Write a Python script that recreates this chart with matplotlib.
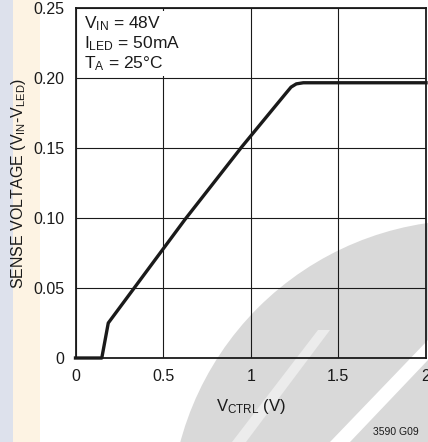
import matplotlib
matplotlib.use('Agg')
import matplotlib.pyplot as plt
import matplotlib.patches as mpatches
import numpy as np

# Curve
v_ctrl = [0.0, 0.15, 0.187, 0.625, 0.95, 1.20, 1.23, 1.26, 1.30, 2.0]
v_sense = [0.0, 0.0, 0.025, 0.099, 0.151, 0.189, 0.1935, 0.1958, 0.1966, 0.1966]

x_ticks = [0, 0.5, 1, 1.5, 2]
x_tick_labels = ['0', '0.5', '1', '1.5', '2']
y_ticks = [0, 0.05, 0.10, 0.15, 0.20, 0.25]
y_tick_labels = ['0', '0.05', '0.10', '0.15', '0.20', '0.25']

conditions = [r'V$_{\mathrm{IN}}$ = 48V',
              r'I$_{\mathrm{LED}}$ = 50mA',
              r'T$_{\mathrm{A}}$ = 25°C']

font = ['Liberation Sans Narrow', 'Liberation Sans', 'DejaVu Sans']
plt.rcParams['font.family'] = font
plt.rcParams['mathtext.fontset'] = 'custom'
plt.rcParams['mathtext.rm'] = 'Liberation Sans'
plt.rcParams['mathtext.it'] = 'Liberation Sans'

W, H = 428, 442
fig = plt.figure(figsize=(W / 100, H / 100), dpi=100)
fig.patch.set_facecolor('white')

# Background layer in pixel coordinates: side strips and watermark disc
bg = fig.add_axes([0, 0, 1, 1], zorder=-5)
bg.set_xlim(0, W)
bg.set_ylim(H, 0)
bg.axis('off')
bg.add_patch(mpatches.Rectangle((0, 0), 13, H, color='#dde1ec', lw=0))
bg.add_patch(mpatches.Rectangle((13, 0), 27, H, color='#fdf3e3', lw=0))
bg.add_patch(mpatches.Circle((470, 520), 300, color='#d9d9d9', lw=0))
bg.add_patch(mpatches.Polygon([(330, 442), (350, 442), (428, 360), (428, 340)],
                              color='white', lw=0))
bg.add_patch(mpatches.Polygon([(232, 442), (246, 442), (330, 330), (318, 330)],
                              color='#ececec', lw=0))

ax = fig.add_axes([75.5 / W, 1 - 358 / H, (426 - 75.5) / W, (358 - 8) / H])
ax.set_facecolor('none')

ax.plot(v_ctrl, v_sense, color='#1a1a1a', lw=2.4, solid_joinstyle='round',
        clip_on=False, zorder=5)

ax.set_xlim(0, 2)
ax.set_ylim(0, 0.25)
ax.set_xticks(x_ticks)
ax.set_xticklabels(x_tick_labels)
ax.set_yticks(y_ticks)
ax.set_yticklabels(y_tick_labels)
ax.tick_params(length=0, labelsize=11.5, pad=8, colors='#1a1a1a')
ax.grid(True, color='#1a1a1a', lw=0.8)
for sp in ax.spines.values():
    sp.set_linewidth(1.3)
    sp.set_color('#1a1a1a')

ax.set_xlabel(r'V$_{\mathrm{CTRL}}$ (V)', fontsize=12, labelpad=9, color='#1a1a1a')
ax.set_ylabel(r'SENSE VOLTAGE (V$_{\mathrm{IN}}$-V$_{\mathrm{LED}}$)', fontsize=11.5,
              labelpad=4, color='#1a1a1a')

ax.text(0.025, 0.983, '\n'.join(conditions), transform=ax.transAxes,
        fontsize=12.5, va='top', ha='left', linespacing=1.1, color='#1a1a1a',
        bbox=dict(facecolor='white', edgecolor='none', pad=2), zorder=6)

fig.text(396 / W, 1 - 432 / H, '3590 G09', fontsize=7.5, ha='center',
         va='center', color='#1a1a1a')

fig.savefig('out.png', dpi=100)
